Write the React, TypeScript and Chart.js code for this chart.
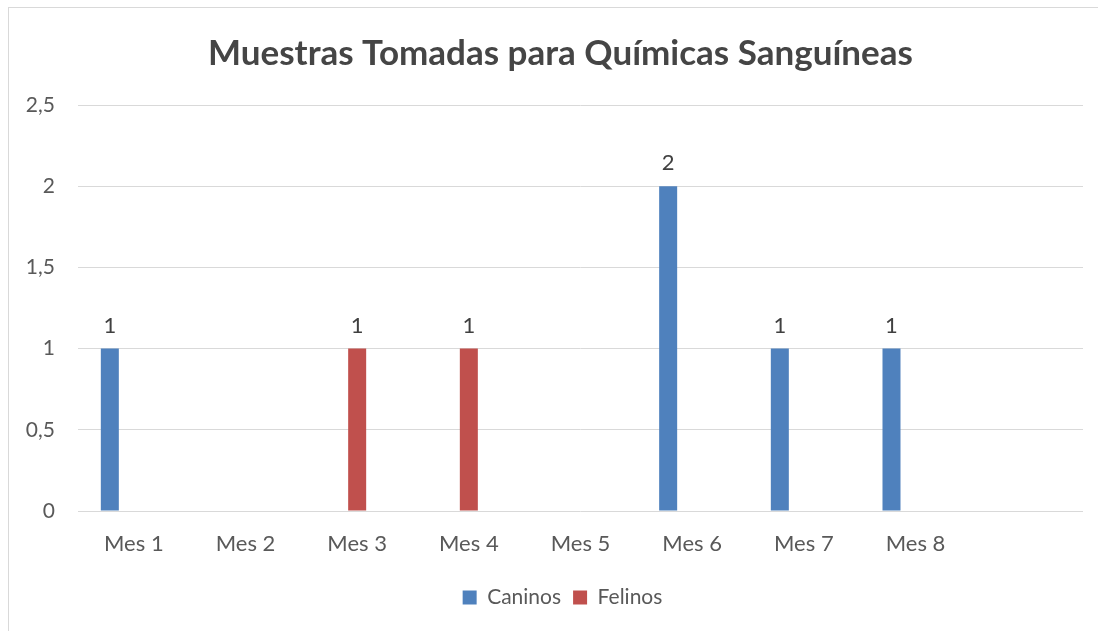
import React, { useEffect, useRef } from "react";
import { Chart, registerables } from "chart.js";

Chart.register(...registerables);

const categories = ["Mes 1", "Mes 2", "Mes 3", "Mes 4", "Mes 5", "Mes 6", "Mes 7", "Mes 8", ""];
const caninos = [1, 0, 0, 0, 0, 2, 1, 1, null];
const felinos = [0, 0, 1, 1, 0, 0, 0, 0, null];
const serie3 = [null, null, null, null, null, null, null, null, null];
const yMin = 0;
const yMax = 2.5;
const yStep = 0.5;
const titleText = "Muestras Tomadas para Químicas Sanguíneas";

const FONT = "Lato, 'Open Sans', sans-serif";

const frame = {
  id: "frame",
  beforeDraw(chart: any) {
    const ctx = chart.ctx;
    ctx.save();
    ctx.fillStyle = "#ffffff";
    ctx.fillRect(0, 0, chart.width, chart.height);
    ctx.strokeStyle = "#D9D9D9";
    ctx.lineWidth = 1;
    ctx.strokeRect(8.5, 7.5, chart.width + 20, chart.height + 20);
    ctx.restore();
  },
};

const boxShift = {
  id: "boxShift",
  afterLayout(chart: any) {
    const lg = chart.legend;
    if (lg) {
      lg.left += 21;
      lg.right += 21;
    }
    const tt = chart.titleBlock;
    if (tt) {
      tt.left += 19;
      tt.right += 19;
    }
  },
};

const valueLabels = {
  id: "valueLabels",
  afterDatasetsDraw(chart: any) {
    const ctx = chart.ctx;
    ctx.save();
    ctx.font = `22px ${FONT}`;
    ctx.fillStyle = "#404040";
    ctx.textAlign = "center";
    ctx.textBaseline = "middle";
    chart.data.datasets.forEach((ds: any, i: number) => {
      const meta = chart.getDatasetMeta(i);
      if (meta.hidden) return;
      meta.data.forEach((bar: any, j: number) => {
        const v = ds.data[j];
        if (v == null || v <= 0) return;
        ctx.fillText(String(v).replace(".", ","), bar.x, bar.y - 23);
      });
    });
    ctx.restore();
  },
};

export default function App() {
  const ref = useRef<HTMLCanvasElement>(null);
  useEffect(() => {
    if (!ref.current) return;
    const chart = new Chart(ref.current, {
      type: "bar",
      data: {
        labels: categories,
        datasets: [
          { label: "Caninos", data: caninos, backgroundColor: "#4F81BD", borderWidth: 0 },
          { label: "Felinos", data: felinos, backgroundColor: "#C0504D", borderWidth: 0 },
          { label: "Serie 3", data: serie3, backgroundColor: "#9BBB59", borderWidth: 0 },
        ],
      },
      options: {
        animation: false,
        responsive: false,
        maintainAspectRatio: false,
        layout: { padding: { top: 0, right: 15, bottom: 13, left: 0 } },
        datasets: { bar: { categoryPercentage: 0.645, barPercentage: 0.75 } },
        plugins: {
          tooltip: { enabled: false },
          title: {
            display: true,
            text: titleText,
            color: "#454545",
            font: { family: FONT, size: 35, weight: "bold", lineHeight: 1.2 },
            padding: { top: 33, bottom: 30 },
          },
          legend: {
            position: "bottom",
            labels: {
              color: "#595959",
              font: { family: FONT, size: 21 },
              boxWidth: 14,
              boxHeight: 14,
              padding: 12,
              filter: (item: any) => item.text !== "Serie 3",
            },
          },
        },
        scales: {
          x: {
            grid: { display: false, drawTicks: false },
            border: { display: false },
            ticks: {
              color: "#595959",
              font: { family: FONT, size: 22 },
              padding: 20,
              maxRotation: 0,
              autoSkip: false,
            },
            afterFit: (s: any) => {
              s.height = 64;
            },
          },
          y: {
            min: yMin,
            max: yMax,
            grid: { color: "#D9D9D9", lineWidth: 1, drawTicks: false },
            border: { display: false },
            ticks: {
              stepSize: yStep,
              color: "#595959",
              font: { family: FONT, size: 21 },
              padding: 23,
              callback: (v: any) => String(v).replace(".", ","),
            },
            afterFit: (s: any) => {
              s.width = 78;
            },
          },
        },
      },
      plugins: [frame, boxShift, valueLabels],
    });
    return () => chart.destroy();
  }, []);
  return (
    <div style={{ position: "absolute", left: 0, top: 0, width: 1098, height: 631 }}>
      <canvas ref={ref} width={1098} height={631} style={{ display: "block" }} />
    </div>
  );
}
